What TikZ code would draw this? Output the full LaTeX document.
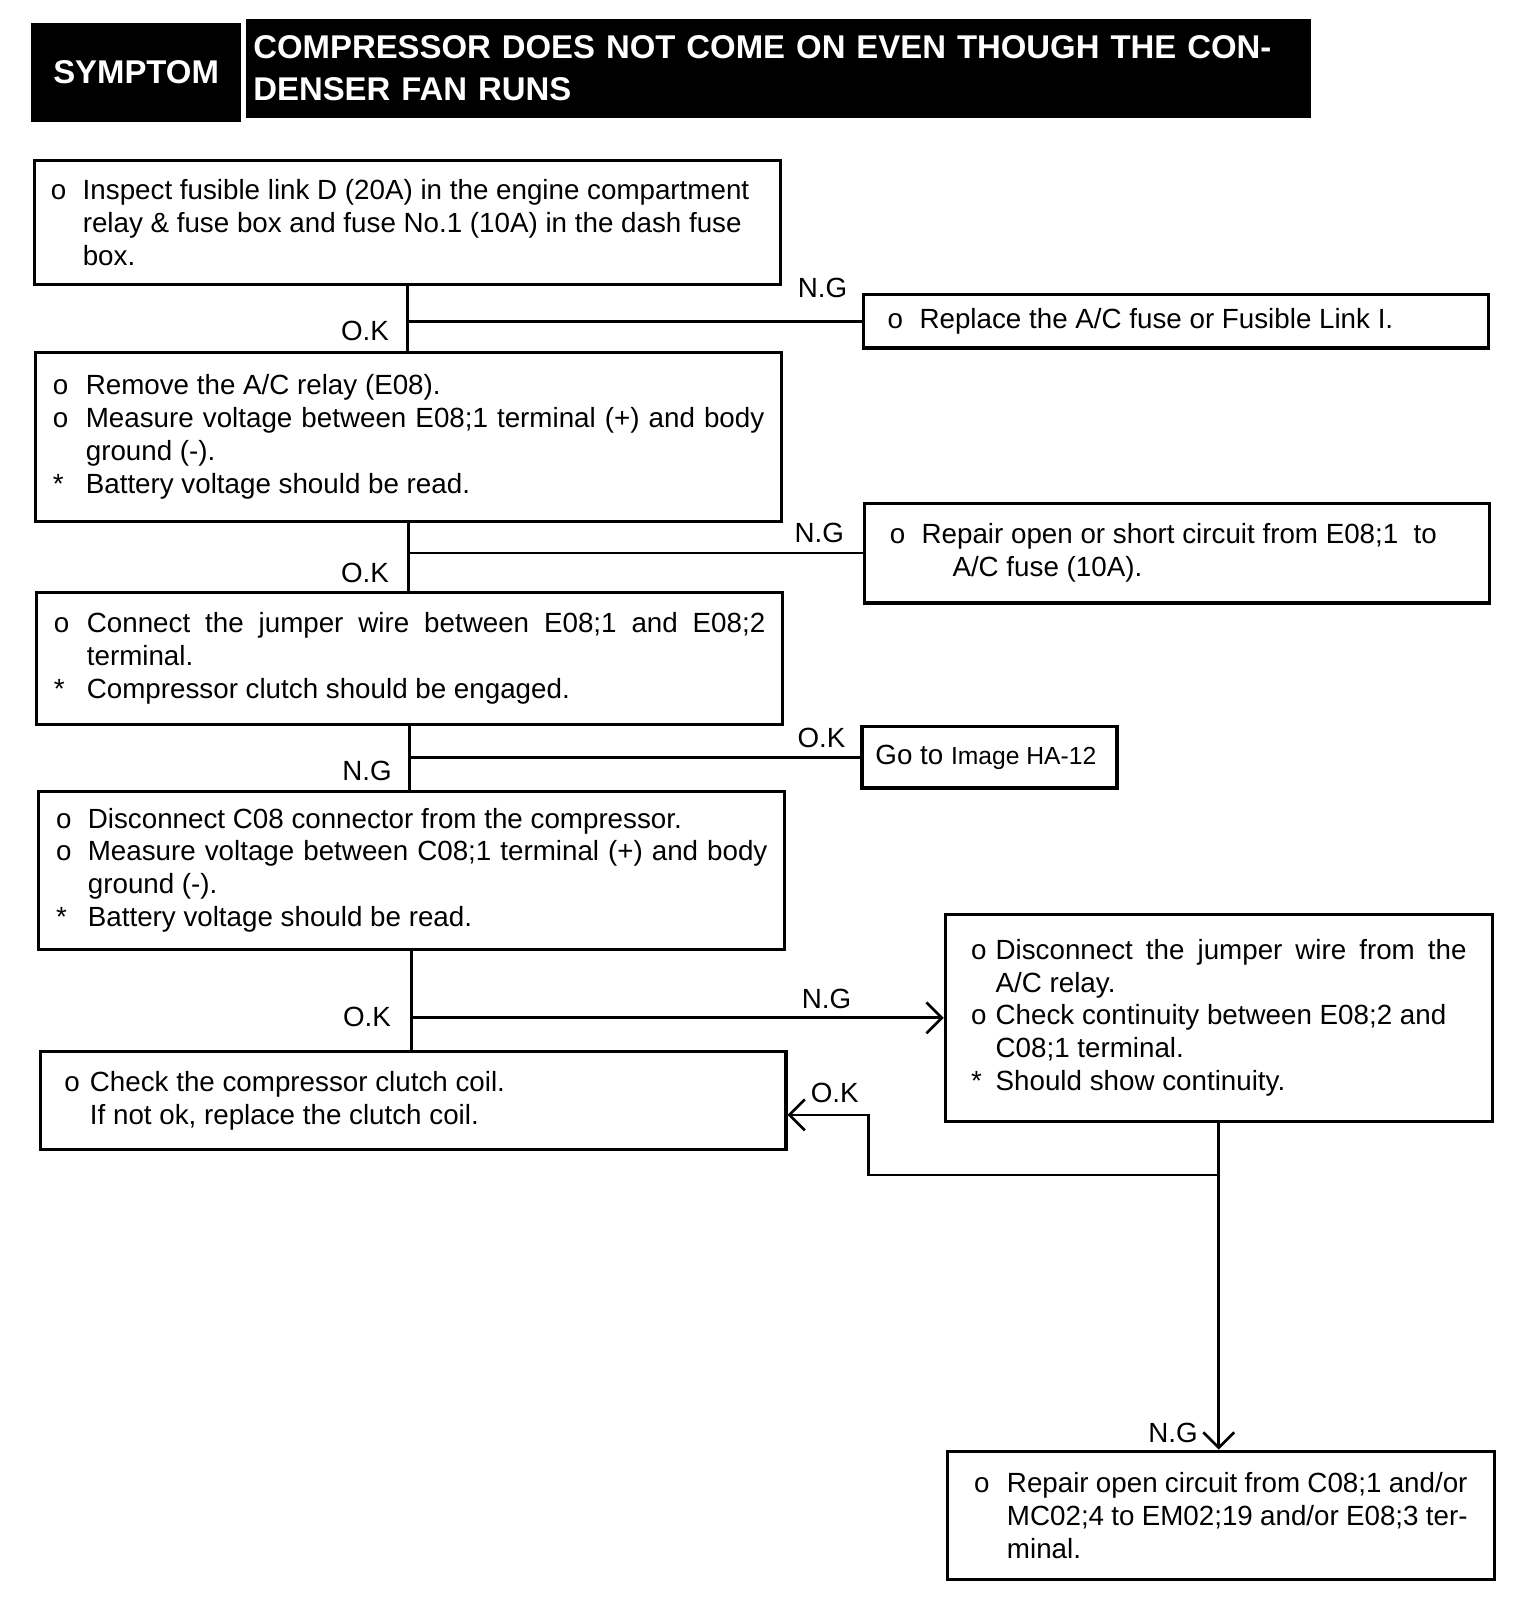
\documentclass[tikz,border=0pt]{standalone}
\usepackage{fontspec}
\setmainfont{Liberation Sans}
\usetikzlibrary{arrows.meta}

\newcommand\bodyfont{\fontsize{13.5}{16}\selectfont\tolerance=10000\hyphenpenalty=10000}
\newcommand\titlefont{\fontsize{16}{20.5}\selectfont\bfseries}
\newcommand\itm[2][16pt]{\noindent\hangindent=#1\hangafter=1\makebox[#1][l]{#2}\ignorespaces}
\newcommand\nl{\hfil\break}

\tikzset{
  boxsize/.code 2 args={%
    \pgfmathsetlengthmacro\bxw{#1*0.5pt}%
    \pgfmathsetlengthmacro\bxp{#2*0.5pt}%
    \pgfmathsetlengthmacro\bxt{(#1-2*#2)*0.5pt}%
    \edef\next{\noexpand\tikzset{minimum width=\bxw, inner xsep=\bxp, text width=\bxt}}\next},
  ht/.style={minimum height=#1*0.5pt},
  stepbox/.style={draw, line width=1.5pt, anchor=north west, inner ysep=0pt, align=justify, font=\bodyfont},
  hdr/.style={fill=black, text=white, anchor=north west, inner ysep=0pt, font=\titlefont},
  lbl/.style={font=\bodyfont, inner sep=0pt},
  conn/.style={line width=1.3pt},
  tip/.style={-{Straight Barb[length=7.5pt,width=15pt]}}
}

\begin{document}
\begin{tikzpicture}[x=0.5pt, y=-0.5pt]
\useasboundingbox (0,0) rectangle (1478.5,1568);

\node[hdr, boxsize={204}{0}, ht=96, align=center] (symptom) at (30,22) {SYMPTOM};
\node[hdr, boxsize={1036}{7}, ht=96, align=left] (title) at (239,18)
  {COMPRESSOR DOES NOT COME ON EVEN THOUGH THE CON-\\DENSER FAN RUNS};

\node[stepbox, boxsize={726}{16}, ht=120] (chk1) at (32,155) {
  \itm[15.5pt]{o}Inspect fusible link D (20A) in the engine compartment\nl
  relay \& fuse box and fuse No.1 (10A) in the dash fuse\nl
  box.\par};
\node[stepbox, boxsize={726}{17}, ht=165] (chk2) at (33,341) {
  \itm{o}Remove the A/C relay (E08).\par
  \itm{o}Measure voltage between E08;1 terminal (+) and body\linebreak ground (-).\par
  \itm{*}Battery voltage should be read.\par};
\node[stepbox, boxsize={726}{17}, ht=128] (chk3) at (34,575) {
  \itm{o}Connect the jumper wire between E08;1 and E08;2\linebreak terminal.\par
  \itm{*}Compressor clutch should be engaged.\par};
\node[stepbox, boxsize={726}{17}, ht=154] (chk4) at (36,768) {
  \itm[15.5pt]{o}Disconnect C08 connector from the compressor.\par
  \itm[15.5pt]{o}Measure voltage between C08;1 terminal (+) and body\linebreak ground (-).\par
  \itm[15.5pt]{*}Battery voltage should be read.\par};
\node[stepbox, boxsize={725}{23}, ht=96] (chk5) at (38,1021) {
  \itm[12.5pt]{o}Check the compressor clutch coil.\nl
  If not ok, replace the clutch coil.\par};

\node[stepbox, boxsize={608}{24}, ht=52] (fix1) at (838,285) {
  \itm[15.5pt]{o}Replace the A/C fuse or Fusible Link I.\par};
\node[stepbox, boxsize={608}{25}, ht=97] (fix2) at (839,488) {
  \itm[15.5pt]{o}Repair open or short circuit from E08;1~ to\nl
  \hspace*{15pt}A/C fuse (10A).\par};
\node[stepbox, boxsize={248}{13}, ht=60] (goto) at (837,705) {
  Go to {\fontsize{12}{16}\selectfont Image HA-12}};
\node[stepbox, boxsize={532}{25}, ht=201] (cont) at (918,888) {
  \itm[12pt]{o}Disconnect the jumper wire from the\linebreak A/C relay.\par
  \itm[12pt]{o}Check continuity between E08;2 and\nl
  C08;1 terminal.\par
  \itm[12pt]{*}Should show continuity.\par};
\node[stepbox, boxsize={532}{26}, ht=125] (fix3) at (920,1410) {
  \itm{o}Repair open circuit from C08;1 and/or\nl
  MC02;4 to EM02;19 and/or E08;3 ter-\nl
  minal.\par};

\draw[conn] (chk1.south) -- (chk1.south |- chk2.north);
\draw[conn] (chk1.south |- fix1.west) -- (fix1.west);
\draw[conn] (chk2.south) -- (chk2.south |- chk3.north);
\draw[conn] (chk2.south |- fix2.west) -- (fix2.west);
\draw[conn] (chk3.south) -- (chk3.south |- chk4.north);
\draw[conn] (chk3.south |- goto.west) -- (goto.west);
\draw[conn] (chk4.south) -- (chk4.south |- chk5.north);
\draw[conn, tip] (chk4.south |- cont.west) -- (cont.west);
\draw[conn, tip] (cont.south) -- (cont.south |- fix3.north);
\coordinate (split) at ([yshift=-25.5pt]cont.south);
\draw[conn, tip] (split) -| ([xshift=39.5pt,yshift=-7pt]chk5.east) -- ([yshift=-7pt]chk5.east);

\foreach \t/\px/\py/\n in {N.G/800/280/ng1, O.K/355/322/ok1, N.G/797/518/ng2, O.K/355/557/ok2,
  O.K/799/718/ok3, N.G/357/750/ng3, N.G/804/972/ng4, O.K/357/989/ok4, O.K/812/1063/ok5, N.G/1141/1394/ng5}
  \node[lbl] (\n) at (\px,\py) {\t};
\end{tikzpicture}
\end{document}
